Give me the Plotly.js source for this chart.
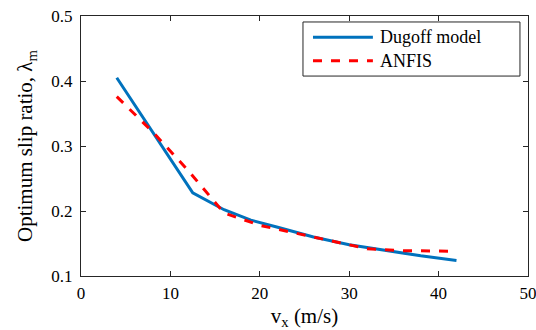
<!DOCTYPE html>
<html>
<head>
<meta charset="utf-8">
<script src="https://cdn.plot.ly/plotly-3.0.1.min.js"></script>
<style>html,body{margin:0;padding:0;background:#fff;}#chart{width:536px;height:330px;}</style>
</head>
<body>
<div id="chart"></div>
<script>
const dugoffX = [4, 12.5, 16, 19, 22, 26, 30, 34, 38, 42];
const dugoffY = [0.405, 0.228, 0.202, 0.186, 0.175, 0.160, 0.148, 0.139, 0.131, 0.124];
const anfisX = [4, 8, 12, 16, 20, 24, 28, 32, 36, 42];
const anfisY = [0.376, 0.322, 0.262, 0.197, 0.178, 0.166, 0.153, 0.142, 0.139, 0.138];
const seriesNames = ["Dugoff model", "ANFIS"];
const seriesColors = ["#0072BD", "#FF0000"];
const seriesDash = ["solid", "dash"];
const xTicks = [0, 10, 20, 30, 40, 50];
const yTicks = [0.1, 0.2, 0.3, 0.4, 0.5];

const font = "Times New Roman";
const axisCommon = {
  showline: true, linecolor: "#262626", linewidth: 1, mirror: "ticks",
  ticks: "inside", ticklen: 5, tickcolor: "#262626", tickwidth: 1,
  showgrid: false, zeroline: false, ticklabeloverflow: "allow",
  tickfont: {family: font, size: 17, color: "#000"}
};
const traces = [
  {x: dugoffX, y: dugoffY, name: seriesNames[0], mode: "lines",
   line: {color: seriesColors[0], width: 3, dash: seriesDash[0]}},
  {x: anfisX, y: anfisY, name: seriesNames[1], mode: "lines",
   line: {color: seriesColors[1], width: 3, dash: seriesDash[1]}}
];

// custom legend (box, sample lines, labels) in paper coordinates
const legBox = {x0: 0.4966, x1: 0.982, y0: 0.769, y1: 0.977};
const legRows = [0.918, 0.828];
const shapes = [{type: "rect", xref: "paper", yref: "paper",
  x0: legBox.x0, x1: legBox.x1, y0: legBox.y0, y1: legBox.y1,
  line: {color: "#262626", width: 1}, fillcolor: "#fff", layer: "above"}];
const annotations = [];
seriesNames.forEach((n, i) => {
  shapes.push({type: "line", xref: "paper", yref: "paper",
    x0: 0.519, x1: 0.653, y0: legRows[i], y1: legRows[i],
    line: {color: seriesColors[i], width: 3, dash: seriesDash[i]}, layer: "above"});
  annotations.push({xref: "paper", yref: "paper", x: 0.665, y: legRows[i],
    xanchor: "left", yanchor: "middle", showarrow: false, text: n,
    font: {family: font, size: 18, color: "#000"}});
});

const layout = {
  width: 536, height: 330,
  margin: {l: 81, r: 8, t: 16, b: 54},
  paper_bgcolor: "#fff", plot_bgcolor: "#fff",
  font: {family: font, color: "#000"},
  xaxis: Object.assign({}, axisCommon, {
    range: [0, 50], tickvals: xTicks, ticktext: xTicks.map(String),
    ticklabelstandoff: 2,
    title: {text: "v<sub>x</sub> (m/s)", font: {family: font, size: 21}, standoff: 8}
  }),
  yaxis: Object.assign({}, axisCommon, {
    range: [0.1, 0.5], tickvals: yTicks, ticktext: yTicks.map(v => v.toFixed(1)),
    ticklabelstandoff: 4,
    title: {text: "Optimum slip ratio, λ<sub>m</sub>", font: {family: font, size: 21}, standoff: 12}
  }),
  showlegend: false,
  shapes: shapes,
  annotations: annotations
};
Plotly.newPlot("chart", traces, layout, {displayModeBar: false, staticPlot: true});
</script>
</body>
</html>
